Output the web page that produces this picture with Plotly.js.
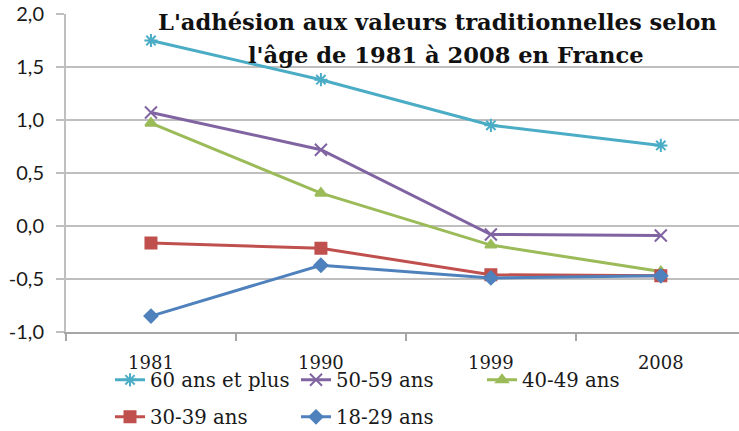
<!DOCTYPE html>
<html><head><meta charset="utf-8">
<script src="https://cdn.plot.ly/plotly-3.0.1.min.js"></script>
<style>html,body{margin:0;padding:0;background:#fff}#chart{width:739px;height:431px}</style>
</head><body><div id="chart"></div>
<script>
var years = ["1981", "1990", "1999", "2008"];
var seriesNames = ["60 ans et plus", "50-59 ans", "40-49 ans", "30-39 ans", "18-29 ans"];
var v60plus = [1.75, 1.38, 0.95, 0.76];
var v50_59 = [1.07, 0.72, -0.08, -0.09];
var v40_49 = [0.97, 0.31, -0.18, -0.43];
var v30_39 = [-0.16, -0.21, -0.46, -0.47];
var v18_29 = [-0.85, -0.37, -0.49, -0.47];
var yTickVals = [-1.0, -0.5, 0.0, 0.5, 1.0, 1.5, 2.0];
var yTickText = ["-1,0", "-0,5", "0,0", "0,5", "1,0", "1,5", "2,0"];
var titleLines = ["L'adhésion aux valeurs traditionnelles selon", "l'âge de 1981 à 2008 en France"];

var colors = ["#4BACC6", "#8064A2", "#9BBB59", "#C0504D", "#4F81BD"];
var symbols = ["asterisk-open", "x-thin-open", "triangle-up", "square", "diamond"];
var sizes = [11, 12, 10, 11, 10];
var legendOf = ["legend", "legend", "legend", "legend2", "legend2"];
var vals = [v60plus, v50_59, v40_49, v30_39, v18_29];

var serif = "DejaVu Serif, Liberation Serif, serif";
var traces = vals.map(function (v, i) {
  return {
    x: years, y: v, name: seriesNames[i], type: "scatter", mode: "lines+markers",
    legend: legendOf[i],
    line: {color: colors[i], width: 3},
    marker: {symbol: symbols[i], size: sizes[i], color: colors[i], line: {color: colors[i], width: 2}}
  };
});

var legendCommon = function (py) {
  return {
    orientation: "h", xref: "container", yref: "container",
    x: 110 / 739, xanchor: "left", y: 1 - py / 431, yanchor: "middle",
    entrywidth: 141, entrywidthmode: "pixels",
    font: {family: serif, size: 19.7, color: "#1a1a1a"},
    bgcolor: "rgba(0,0,0,0)", itemwidth: 30
  };
};

var W = 673, H = 318, L = 66, T = 14;
var layout = {
  width: 739, height: 431,
  margin: {l: L, r: 0, t: T, b: 99},
  paper_bgcolor: "#fff", plot_bgcolor: "#fff",
  showlegend: true,
  annotations: [
    {text: "<b>" + titleLines[0] + "</b>", xref: "paper", yref: "paper",
     x: (437 - L) / W, y: (332 - 22) / H, xanchor: "center", yanchor: "middle",
     showarrow: false, font: {family: serif, size: 22.6, color: "#111111"}},
    {text: "<b>" + titleLines[1] + "</b>", xref: "paper", yref: "paper",
     x: (446 - L) / W, y: (332 - 55) / H, xanchor: "center", yanchor: "middle",
     showarrow: false, font: {family: serif, size: 22.6, color: "#111111"}}
  ],
  xaxis: {
    type: "category", range: [-0.5, 3.46],
    tickson: "boundaries", ticks: "outside", ticklen: 7, tickcolor: "#a6a6a6", tickwidth: 2,
    showline: true, linecolor: "#a6a6a6", linewidth: 2,
    showgrid: false, zeroline: false,
    ticklabelstandoff: 13,
    tickfont: {family: serif, size: 18, color: "#1a1a1a"},
    fixedrange: true
  },
  yaxis: {
    range: [-1.0, 2.0], tickvals: yTickVals, ticktext: yTickText,
    ticks: "outside", ticklen: 8, tickcolor: "#bfbfbf", tickwidth: 2,
    showline: true, linecolor: "#bfbfbf", linewidth: 2,
    showgrid: true, gridcolor: "#bfbfbf", gridwidth: 2,
    zeroline: false, ticklabelstandoff: 8,
    tickfont: {family: "Lato, Open Sans, sans-serif", size: 20, color: "#1a1a1a"},
    fixedrange: true
  },
  legend: legendCommon(380),
  legend2: legendCommon(417)
};
Plotly.newPlot("chart", traces, layout, {displayModeBar: false, staticPlot: true});
</script></body></html>
